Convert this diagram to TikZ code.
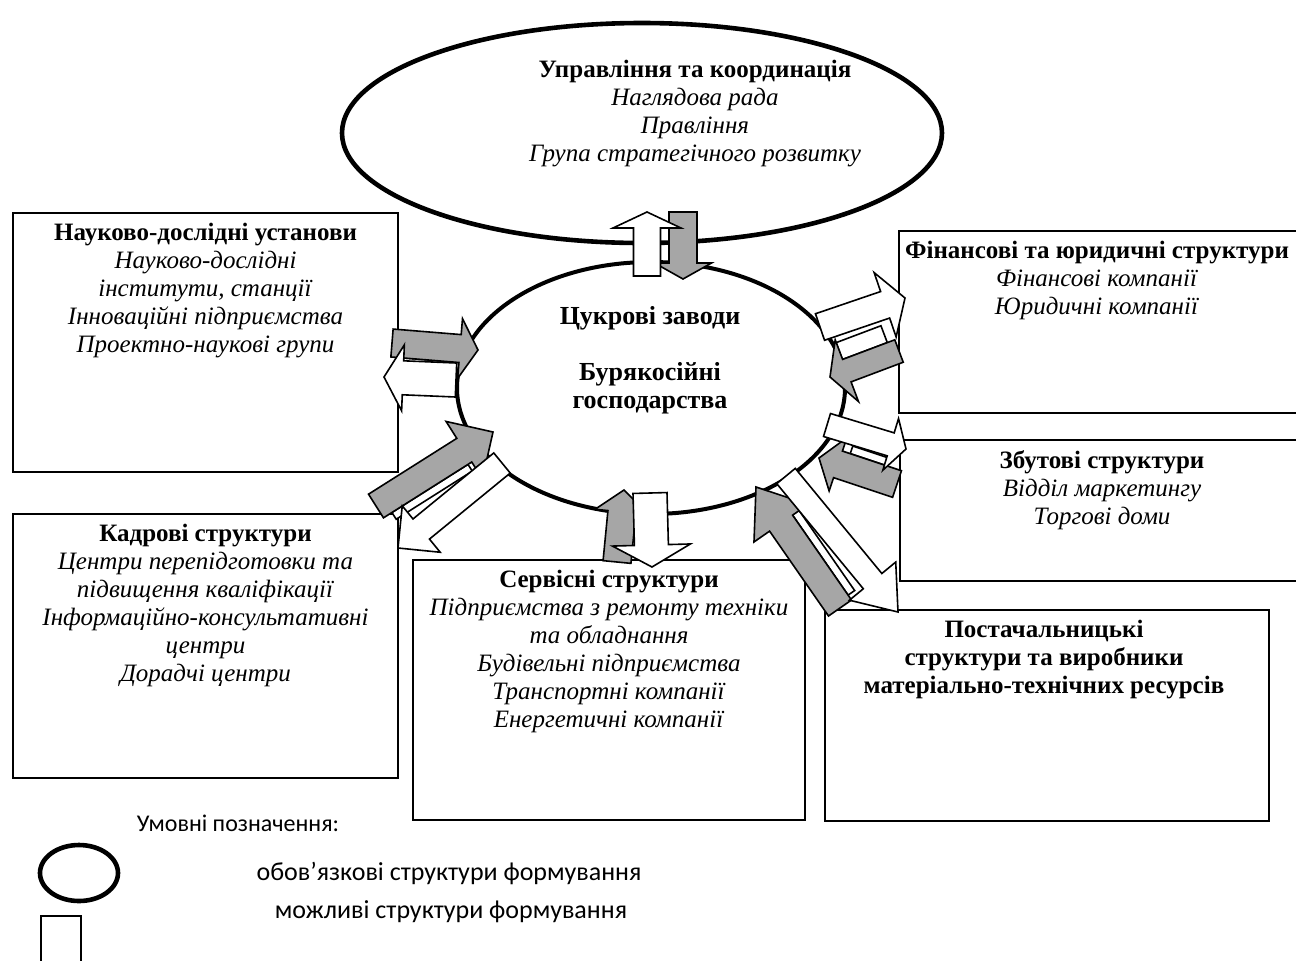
\documentclass[tikz,border=0pt]{standalone}
\usepackage{fontspec}
\setmainfont{Liberation Serif}
\newfontfamily\legendfont{Carlito}
\usepackage{tikz}
\usetikzlibrary{shapes.geometric, calc, positioning}
\definecolor{arrowgray}{RGB}{166,166,166}

% block arrow: style, tail, tip, half shaft, half head, head length
\newcommand\blockarrow[6]{%
  \coordinate (ba-b) at ($(#3)!#6!(#2)$);
  \draw[#1] ($(#2)!#4!90:(#3)$) -- ($(ba-b)!#4!90:(#3)$) -- ($(ba-b)!#5!90:(#3)$) -- (#3)
    -- ($(ba-b)!#5!-90:(#3)$) -- ($(ba-b)!#4!-90:(#3)$) -- ($(#2)!#4!-90:(#3)$) -- cycle;}
% white strip beside an arrow: tail, tip, from, to, side, inner, outer
\newcommand\stripe[7]{%
  \draw[wbar] ($($(#1)!#3!(#2)$)!#6!#5:(#2)$) -- ($($(#1)!#4!(#2)$)!#6!#5:(#2)$)
    -- ($($(#1)!#4!(#2)$)!#7!#5:(#2)$) -- ($($(#1)!#3!(#2)$)!#7!#5:(#2)$) -- cycle;}

\begin{document}
\begin{tikzpicture}[x=0.5pt, y=-0.5pt,
  txt/.style={align=center, inner sep=0pt, font=\fontsize{12.5}{14}\selectfont},
  legtxt/.style={inner sep=0pt, font=\legendfont\fontsize{13}{15}\selectfont},
  sbox/.style={rectangle, draw, line width=1pt, inner sep=0pt, anchor=north west},
  oval/.style={ellipse, draw, line width=2.3pt, inner sep=0pt},
  garrow/.style={draw, fill=arrowgray, line width=0.8pt, line join=miter},
  warrow/.style={draw, fill=white, line width=0.8pt, line join=miter},
  wbar/.style={draw, fill=white, line width=0.8pt}]
\useasboundingbox (0,0) rectangle (1296,960);

% obligatory structures
\node[oval, minimum width=300pt, minimum height=110pt] (mgmt) at (642,133) {};
\node[txt] (mgmttxt) at (695,114) {\textbf{Управління та координація}\\ \textit{Наглядова рада}\\
  \textit{Правління}\\ \textit{Група стратегічного розвитку}};
\node[oval, line width=2pt, minimum width=194pt, minimum height=126pt] (core) at (651,388) {};
\node[txt, font=\fontsize{13}{14}\selectfont] (coretxt) at (650,360) {\textbf{Цукрові заводи}\\[14pt]
  \textbf{Бурякосійні}\\ \textbf{господарства}};

% possible structures
\node[sbox, minimum width=192.5pt, minimum height=129.5pt] (sci) at (12,212) {};
\node[txt, below=5.5pt of sci.north] (scitxt) {\textbf{Науково-дослідні установи}\\ \textit{Науково-дослідні}\\
  \textit{інститути, станції}\\ \textit{Інноваційні підприємства}\\ \textit{Проектно-наукові групи}};
\node[sbox, minimum width=202pt, minimum height=91pt] (fin) at (898,230) {};
\node[txt, below=5.5pt of fin.north, xshift=-2pt] (fintxt) {\textbf{Фінансові та юридичні структури}\\
  \textit{Фінансові компанії}\\ \textit{Юридичні компанії}};
\node[sbox, minimum width=202pt, minimum height=70.5pt] (sales) at (899,439) {};
\node[txt, below=5.5pt of sales.north] (salestxt) {\textbf{Збутові структури}\\ \textit{Відділ маркетингу}\\
  \textit{Торгові доми}};
\node[sbox, minimum width=192.5pt, minimum height=132pt] (staff) at (12,513) {};
\node[txt, below=5.5pt of staff.north] (stafftxt) {\textbf{Кадрові структури}\\ \textit{Центри перепідготовки та}\\
  \textit{підвищення кваліфікації}\\ \textit{Інформаційно-консультативні}\\ \textit{центри}\\ \textit{Дорадчі центри}};
\node[sbox, minimum width=196pt, minimum height=130pt] (serv) at (412,559) {};
\node[txt, below=5.5pt of serv.north] (servtxt) {\textbf{Сервісні структури}\\ \textit{Підприємства з ремонту техніки}\\
  \textit{та обладнання}\\ \textit{Будівельні підприємства}\\ \textit{Транспортні компанії}\\ \textit{Енергетичні компанії}};
\node[sbox, minimum width=222pt, minimum height=105.5pt] (supply) at (824,609) {};
\node[txt, below=5.5pt of supply.north, xshift=-1.5pt] (supplytxt) {\textbf{Постачальницькі}\\
  \textbf{структури та виробники}\\ \textbf{матеріально-технічних ресурсів}};

% arrow ends
\coordinate (w1a) at (647,276); \coordinate (w1b) at (647,212);
\coordinate (g1a) at (683,212); \coordinate (g1b) at (683,279);
\coordinate (g2a) at (392,343); \coordinate (g2b) at (478,350);
\coordinate (w2a) at (456,380); \coordinate (w2b) at (384,377);
\coordinate (g3a) at (376,506); \coordinate (g3b) at (493,432);
\coordinate (w3a) at (502,463); \coordinate (w3b) at (398,548);
\coordinate (g4a) at (617,562); \coordinate (g4b) at (624,490);
\coordinate (w4a) at (650,493); \coordinate (w4b) at (652,567);
\coordinate (g5a) at (840,608); \coordinate (g5b) at (756,487);
\coordinate (w5a) at (786,476); \coordinate (w5b) at (898,612);
\coordinate (g6a) at (897,484); \coordinate (g6b) at (819,458);
\coordinate (w6a) at (827,425); \coordinate (w6b) at (906,449);
\coordinate (g7a) at (899,351); \coordinate (g7b) at (830,377);
\coordinate (w7a) at (820,327); \coordinate (w7b) at (905,298);

% strips between the pairs
\stripe{g2a}{g2b}{5.5pt}{33pt}{-90}{7pt}{11pt}
\stripe{g3a}{g3b}{5pt}{50pt}{-90}{7pt}{11pt}
\stripe{g5a}{g5b}{3pt}{52pt}{-90}{7pt}{11pt}
\stripe{g6a}{g6b}{8pt}{27pt}{-90}{7pt}{11pt}
\stripe{g7a}{g7b}{4pt}{28pt}{-90}{6pt}{15pt}

% grey arrows
\blockarrow{garrow}{g1a}{g1b}{7pt}{14.25pt}{8pt}
\blockarrow{garrow}{g2a}{g2b}{7pt}{15pt}{9pt}
\blockarrow{garrow}{g3a}{g3b}{7pt}{17pt}{17pt}
\blockarrow{garrow}{g4a}{g4b}{7pt}{13.5pt}{11pt}
\blockarrow{garrow}{g5a}{g5b}{7pt}{16.5pt}{22pt}
\blockarrow{garrow}{g6a}{g6b}{7pt}{14pt}{10pt}
\blockarrow{garrow}{g7a}{g7b}{6pt}{16.5pt}{9pt}
% white arrows
\blockarrow{warrow}{w1a}{w1b}{6.75pt}{17pt}{8pt}
\blockarrow{warrow}{w2a}{w2b}{8.5pt}{16.5pt}{9.5pt}
\blockarrow{warrow}{w3a}{w3b}{6.5pt}{15pt}{15pt}
\blockarrow{warrow}{w4a}{w4b}{8.5pt}{19.5pt}{11pt}
\blockarrow{warrow}{w5a}{w5b}{6pt}{15pt}{20pt}
\blockarrow{warrow}{w6a}{w6b}{6pt}{13.5pt}{8pt}
\blockarrow{warrow}{w7a}{w7b}{7pt}{17pt}{10.5pt}

% legend
\node[legtxt, font=\legendfont\fontsize{12}{14}\selectfont] (legtitle) at (238,823) {Умовні позначення:};
\node[ellipse, draw, line width=2.3pt, minimum width=39pt, minimum height=28pt, inner sep=0pt] (legoval) at (79,873) {};
\node[sbox, minimum width=20pt, minimum height=25pt] (legbox) at (40,915) {};
\node[legtxt] (legoblig) at (449,873) {обов’язкові структури формування};
\node[legtxt] (legposs) at (451,912) {можливі структури формування};
\end{tikzpicture}
\end{document}
